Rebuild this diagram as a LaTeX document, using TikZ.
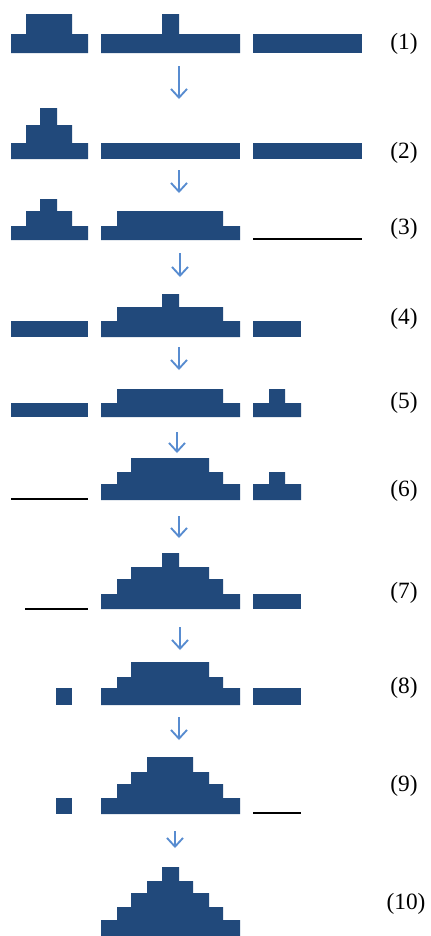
\documentclass[tikz,border=0pt]{standalone}
\usepackage{fontspec}
\setmainfont{Liberation Serif}
\usetikzlibrary{arrows.meta}
\definecolor{blk}{RGB}{33,73,123}
\definecolor{arr}{RGB}{88,140,208}
\tikzset{
  blockfill/.style={fill=blk},
  gap/.style={draw=black,line width=1.3pt},
  steparrow/.style={draw=arr,line width=1.4pt,-{Straight Barb[length=6.5pt,width=12pt]}},
  rowlabel/.style={font=\fontsize{17.5}{20}\selectfont,inner sep=0pt}
}
\begin{document}
\begin{tikzpicture}[x=0.75pt,y=-0.75pt]
\useasboundingbox (0,0) rectangle (430,936);
% Row 1
\fill[blockfill] (11,34) rectangle (88,53) (26,14) rectangle (72,53);
\fill[blockfill] (101,34) rectangle (240,53) (162,14) rectangle (179,53);
\fill[blockfill] (253,34) rectangle (362,53);
\node[rowlabel] (l1) at (404,44) {(1)};
% Row 2
\fill[blockfill] (11,143) rectangle (88,159) (26,125) rectangle (72,159) (40,108) rectangle (57,159);
\fill[blockfill] (101,143) rectangle (240,159);
\fill[blockfill] (253,143) rectangle (362,159);
\node[rowlabel] (l2) at (404,153) {(2)};
% Row 3
\fill[blockfill] (11,226) rectangle (88,240) (26,211) rectangle (72,240) (40,199) rectangle (57,240);
\fill[blockfill] (101,226) rectangle (240,240) (117,211) rectangle (223,240);
\coordinate (g3a) at (253,239); \coordinate (g3b) at (362,239);
\draw[gap] (g3a) -- (g3b);
\node[rowlabel] (l3) at (404,229) {(3)};
% Row 4
\fill[blockfill] (11,321) rectangle (88,337);
\fill[blockfill] (101,321) rectangle (240,337) (117,307) rectangle (223,337) (162,294) rectangle (179,337);
\fill[blockfill] (253,321) rectangle (301,337);
\node[rowlabel] (l4) at (404,319) {(4)};
% Row 5
\fill[blockfill] (11,403) rectangle (88,417);
\fill[blockfill] (101,403) rectangle (240,417) (117,389) rectangle (223,417);
\fill[blockfill] (253,403) rectangle (301,417) (269,389) rectangle (285,417);
\node[rowlabel] (l5) at (404,403) {(5)};
% Row 6
\coordinate (g6a) at (11,499); \coordinate (g6b) at (88,499);
\draw[gap] (g6a) -- (g6b);
\fill[blockfill] (101,484) rectangle (240,500) (117,472) rectangle (223,500) (131,458) rectangle (209,500);
\fill[blockfill] (253,484) rectangle (301,500) (269,472) rectangle (285,500);
\node[rowlabel] (l6) at (404,491) {(6)};
% Row 7
\coordinate (g7a) at (25,609); \coordinate (g7b) at (88,609);
\draw[gap] (g7a) -- (g7b);
\fill[blockfill] (101,594) rectangle (240,609) (117,579) rectangle (223,609) (131,567) rectangle (209,609) (162,553) rectangle (179,609);
\fill[blockfill] (253,594) rectangle (301,609);
\node[rowlabel] (l7) at (404,593) {(7)};
% Row 8
\fill[blockfill] (56,688) rectangle (72,705);
\fill[blockfill] (101,688) rectangle (240,705) (117,677) rectangle (223,705) (131,662) rectangle (209,705);
\fill[blockfill] (253,688) rectangle (301,705);
\node[rowlabel] (l8) at (404,688) {(8)};
% Row 9
\fill[blockfill] (56,798) rectangle (72,814);
\fill[blockfill] (101,798) rectangle (240,814) (117,784) rectangle (223,814) (131,772) rectangle (209,814) (147,757) rectangle (193,814);
\coordinate (g9a) at (253,813); \coordinate (g9b) at (301,813);
\draw[gap] (g9a) -- (g9b);
\node[rowlabel] (l9) at (404,786) {(9)};
% Row 10
\fill[blockfill] (101,920) rectangle (240,936) (117,907) rectangle (223,936) (131,893) rectangle (209,936) (147,881) rectangle (193,936) (162,867) rectangle (179,936);
\node[rowlabel] (l10) at (406,904) {(10)};
% Arrows
\coordinate (a1s) at (179,66);  \coordinate (a1e) at (179,99);
\coordinate (a2s) at (179,170); \coordinate (a2e) at (179,193);
\coordinate (a3s) at (180,253); \coordinate (a3e) at (180,277);
\coordinate (a4s) at (179,347); \coordinate (a4e) at (179,370);
\coordinate (a5s) at (177,432); \coordinate (a5e) at (177,453);
\coordinate (a6s) at (179,516); \coordinate (a6e) at (179,538);
\coordinate (a7s) at (180,627); \coordinate (a7e) at (180,650);
\coordinate (a8s) at (179,717); \coordinate (a8e) at (179,740);
\coordinate (a9s) at (175,831); \coordinate (a9e) at (175,848);
\foreach \i in {1,...,9} { \draw[steparrow] (a\i s) -- (a\i e); }
\end{tikzpicture}
\end{document}
